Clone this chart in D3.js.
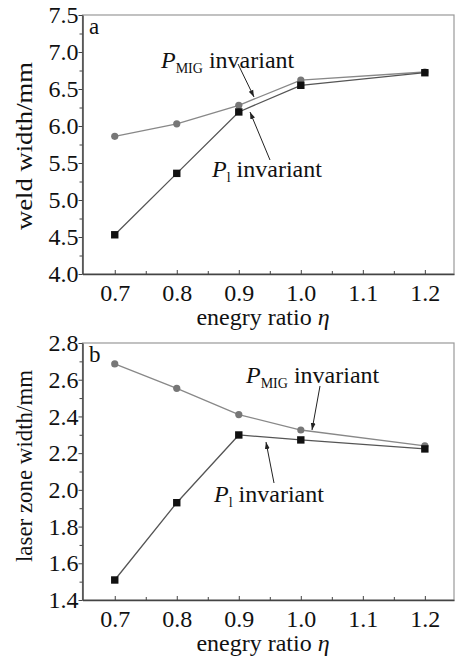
<!DOCTYPE html>
<html>
<head>
<meta charset="utf-8">
<script src="https://cdn.jsdelivr.net/npm/d3@7"></script>
<style>
  body { margin: 0; background: #fff; }
  svg { display: block; }
  svg text { font-family: "Times New Roman", "Liberation Serif", "DejaVu Serif", serif !important; fill: #111; }
</style>
</head>
<body>
<div id="chart"></div>
<script>
// data -------------------------------------------------------------
const ratios = [0.7, 0.8, 0.9, 1.0, 1.2];
const weldMig = [5.86, 6.03, 6.28, 6.62, 6.73];
const weldLaser = [4.53, 5.36, 6.19, 6.55, 6.72];
const zoneMig = [2.686, 2.553, 2.41, 2.326, 2.24];
const zoneLaser = [1.509, 1.93, 2.299, 2.272, 2.223];
const xTicks = [0.7, 0.8, 0.9, 1.0, 1.1, 1.2];
const weldTicks = [4.0, 4.5, 5.0, 5.5, 6.0, 6.5, 7.0, 7.5];
const zoneTicks = [1.4, 1.6, 1.8, 2.0, 2.2, 2.4, 2.6, 2.8];

const width = 455, height = 657;
const svg = d3.select('#chart').append('svg')
  .attr('width', width).attr('height', height);

svg.append('defs').append('marker')
  .attr('id', 'arrow')
  .attr('viewBox', '0 0 10 10')
  .attr('refX', 10).attr('refY', 5)
  .attr('markerWidth', 7).attr('markerHeight', 7)
  .attr('orient', 'auto')
  .append('path').attr('d', 'M0,1.5 L10,5 L0,8.5 Z').attr('fill', '#222');

function panel(opts) {
  const { top, bottom, yDomain, yTicks, yTitle, titleLen, titleSize, mig, laser, letter, migLabel, laserLabel } = opts;
  const left = 82.5, right = 454;
  const x = d3.scaleLinear().domain([0.648, 1.247]).range([left, right]);
  const y = d3.scaleLinear().domain(yDomain).range([bottom, top]);
  const g = svg.append('g');

  // frame
  g.append('rect').attr('x', left).attr('y', top)
    .attr('width', right - left).attr('height', bottom - top)
    .attr('fill', 'none').attr('stroke', '#999').attr('stroke-width', 1.2);

  // x axis
  const xa = g.append('g').attr('transform', `translate(0,${bottom})`)
    .call(d3.axisBottom(x).tickValues(xTicks).tickFormat(d3.format('.1f')).tickSizeInner(-4).tickSizeOuter(0).tickPadding(10));
  xa.select('.domain').attr('stroke', '#444').attr('stroke-width', 1.5);
  xa.selectAll('.tick line').attr('stroke', '#444');
  xa.selectAll('text').attr('font-size', 24);
  g.append('g').attr('transform', `translate(0,${bottom})`)
    .call(d3.axisBottom(x).tickValues(xTicks.map(d => d + 0.05).filter(d => d < 1.24)).tickFormat('').tickSize(-3))
    .call(s => s.select('.domain').remove())
    .selectAll('line').attr('stroke', '#444');

  // y axis
  const ya = g.append('g').attr('transform', `translate(${left},0)`)
    .call(d3.axisLeft(y).tickValues(yTicks).tickFormat(d3.format('.1f')).tickSizeInner(4).tickSizeOuter(0).tickPadding(0));
  ya.select('.domain').attr('stroke', '#444').attr('stroke-width', 1.5);
  ya.selectAll('.tick line').attr('stroke', '#444');
  ya.selectAll('text').attr('font-size', 24);
  const minorY = yTicks.slice(0, -1).map((d, i) => (d + yTicks[i + 1]) / 2);
  g.append('g').attr('transform', `translate(${left},0)`)
    .call(d3.axisLeft(y).tickValues(minorY).tickFormat('').tickSize(3))
    .call(s => s.select('.domain').remove())
    .selectAll('line').attr('stroke', '#444');

  // titles
  g.append('text')
    .attr('transform', `translate(32,${opts.titleMid}) rotate(-90)`)
    .attr('text-anchor', 'middle').attr('font-size', titleSize)
    .attr('textLength', titleLen).attr('lengthAdjust', 'spacingAndGlyphs')
    .text(yTitle);
  const xt = g.append('text').attr('x', 263).attr('y', bottom + 51)
    .attr('text-anchor', 'middle').attr('font-size', 24);
  xt.append('tspan').text('enegry ratio ');
  xt.append('tspan').attr('font-style', 'italic').text('η');

  g.append('text').attr('x', 89).attr('y', top + 19)
    .attr('font-size', 23).text(letter);

  // lines
  const line = d3.line().x((d, i) => x(ratios[i])).y(d => y(d));
  g.append('path').datum(mig).attr('d', line)
    .attr('fill', 'none').attr('stroke', '#888').attr('stroke-width', 1.3);
  g.append('path').datum(laser).attr('d', line)
    .attr('fill', 'none').attr('stroke', '#555').attr('stroke-width', 1.3);

  g.selectAll('.mig').data(mig).join('circle')
    .attr('cx', (d, i) => x(ratios[i])).attr('cy', d => y(d))
    .attr('r', 3.6).attr('fill', '#777');
  g.selectAll('.laser').data(laser).join('rect')
    .attr('x', (d, i) => x(ratios[i]) - 3.7).attr('y', d => y(d) - 3.7)
    .attr('width', 7.4).attr('height', 7.4).attr('fill', '#111');

  // annotations
  function label(lx, ly, sub) {
    const t = g.append('text').attr('x', lx).attr('y', ly).attr('font-size', 24);
    t.append('tspan').attr('font-style', 'italic').text('P');
    t.append('tspan').attr('font-size', 14).attr('dy', 5).text(sub);
    t.append('tspan').attr('dy', -5).text(' invariant');
  }
  label(migLabel.x, migLabel.y, 'MIG');
  label(laserLabel.x, laserLabel.y, 'l');
  g.append('line').attr('x1', migLabel.ax1).attr('y1', migLabel.ay1)
    .attr('x2', migLabel.ax2).attr('y2', migLabel.ay2)
    .attr('stroke', '#222').attr('stroke-width', 1).attr('marker-end', 'url(#arrow)');
  g.append('line').attr('x1', laserLabel.ax1).attr('y1', laserLabel.ay1)
    .attr('x2', laserLabel.ax2).attr('y2', laserLabel.ay2)
    .attr('stroke', '#222').attr('stroke-width', 1).attr('marker-end', 'url(#arrow)');
}

panel({
  top: 15, bottom: 274, yDomain: [4.0, 7.5], yTicks: weldTicks, yTitle: 'weld width/mm',
  titleMid: 146, titleLen: 168, titleSize: 24,
  mig: weldMig, laser: weldLaser, letter: 'a',
  migLabel: { x: 161, y: 68, ax1: 238, ay1: 64, ax2: 254, ay2: 97 },
  laserLabel: { x: 212, y: 177, ax1: 270, ay1: 160, ax2: 250, ay2: 112 }
});
panel({
  top: 343, bottom: 600, yDomain: [1.4, 2.8], yTicks: zoneTicks, yTitle: 'laser zone width/mm',
  titleMid: 466, titleLen: 192, titleSize: 23,
  mig: zoneMig, laser: zoneLaser, letter: 'b',
  migLabel: { x: 246, y: 383, ax1: 320, ay1: 386, ax2: 312, ay2: 430 },
  laserLabel: { x: 214, y: 502, ax1: 274, ay1: 483, ax2: 266, ay2: 442 }
});
</script>
</body>
</html>
